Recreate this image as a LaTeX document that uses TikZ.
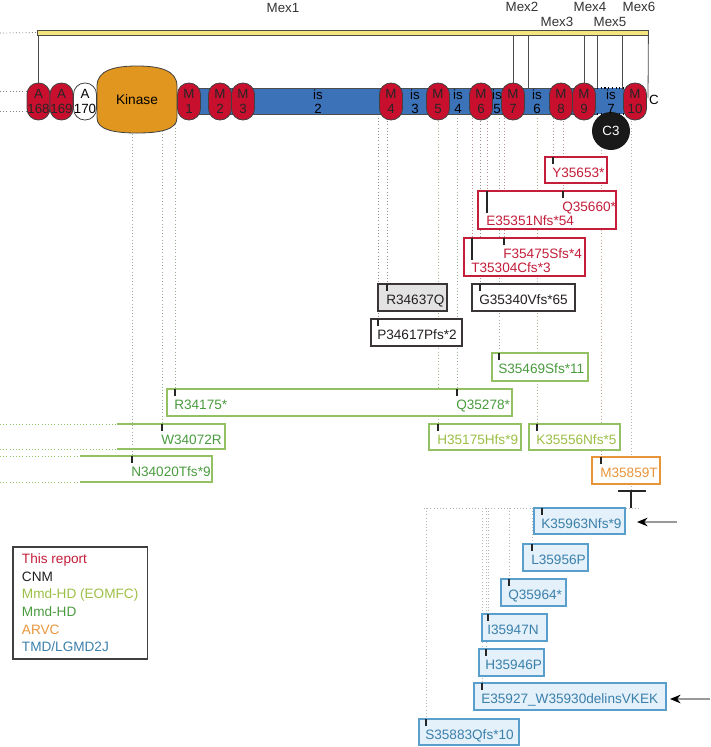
\documentclass[tikz,border=0pt]{standalone}
\usepackage{fontspec}
\setmainfont{Liberation Sans}
\usetikzlibrary{arrows.meta,positioning}
\definecolor{domred}{HTML}{C8102E}
\definecolor{domblue}{HTML}{3C72B8}
\definecolor{kinorange}{HTML}{E0961F}
\definecolor{mexyellow}{HTML}{F3E47C}
\definecolor{reptred}{HTML}{C41E3A}
\definecolor{cnmblack}{HTML}{231F20}
\definecolor{eomgreen}{HTML}{9CBF45}
\definecolor{mmdgreen}{HTML}{4A9B3F}
\definecolor{boxgreen}{HTML}{92C063}
\definecolor{arvcorange}{HTML}{E8953A}
\definecolor{tmdblue}{HTML}{3A80AA}
\definecolor{tmdbox}{HTML}{5A9ECB}
\definecolor{tmdfill}{HTML}{E4F0FA}
\tikzset{
  dom/.style = {rectangle, rounded corners=8.5pt, draw=black!75, line width=0.6pt, minimum width=17.25pt, minimum height=27.75pt, inner sep=0pt, align=center, font=\fontsize{10}{10.8}\selectfont},
  mdom/.style = {dom, fill=domred, text=black!85},
  adom/.style = {dom, fill=white},
  islab/.style = {inner sep=0pt, align=center, font=\fontsize{10}{10.8}\selectfont},
  mexlab/.style = {inner sep=0pt, text=black!80, font=\fontsize{10}{12}\selectfont},
  mexline/.style = {black!70, line width=0.6pt},
  vbox/.style = {line width=1pt, fill=white},
  vtext/.style = {anchor=base west, inner sep=0pt, font=\fontsize{10.2}{12}\selectfont},
  vtick/.style = {line width=0.9pt, black!85},
  vdot/.style = {line width=0.6pt, dash pattern=on 0.6pt off 1.8pt},
  arw/.style = {gray!80, line width=0.8pt, -{Stealth[black, length=8pt, width=6.5pt]}}
}
% variants: name/tick x/box top/line/colour/label
\def\uplist{y653/553/157/1/reptred/Y35653*, q660/563/191/1/reptred/Q35660*,
  e351/487/191/2/reptred/E35351Nfs*54, f475/504/238/1/reptred/F35475Sfs*4,
  t304/472/238/2/reptred/T35304Cfs*3, r637/387/284/1/cnmblack/R34637Q,
  g340/480/284/1/cnmblack/G35340Vfs*65, p617/378/319/1/cnmblack/P34617Pfs*2,
  s469/499/353/1/mmdgreen/S35469Sfs*11, r175/175/389/1/mmdgreen/R34175*,
  q278/457/389/1/mmdgreen/Q35278*, w072/162/424/1/mmdgreen/W34072R,
  n020/132/456/1/mmdgreen/N34020Tfs*9, h175/438/424/1/eomgreen/H35175Hfs*9,
  k556/537/424/1/eomgreen/K35556Nfs*5, m859/601/457/1/arvcorange/M35859T}
\def\lowlist{k963/542/508/K35963Nfs*9, l956/532/544/L35956P, q964/509/579/Q35964*,
  i947/488/614/I35947N, h946/486/649/H35946P, e927/482/683/E35927\_W35930delinsVKEK,
  s883/426/719/S35883Qfs*10}
\begin{document}
\begin{tikzpicture}[x=0.75pt, y=-0.75pt]
\useasboundingbox (0,0) rectangle (711,747);

% dotted leaders
\coordinate (dbot) at (0,118);
\coordinate (hl) at (424,508);
\coordinate (tmk) at (631,491);
\foreach \nm/\x/\tp/\lin/\col/\txt in \uplist {
  \coordinate (\nm) at (\x,\tp);
  \draw[vdot, color=\col!35!gray!70] (\nm |- dbot) -- (\nm);
}
\draw[vdot, gray!60] (tmk |- dbot) -- (tmk);
\draw[vdot, gray!60] (hl) -- (640,508);
\foreach \nm/\x/\tp/\txt in \lowlist {
  \coordinate (\nm) at (\x,\tp);
  \draw[vdot, gray!55] (\nm |- hl) -- (\nm);
}

% Mex bar
\node[draw=black!70, line width=0.6pt, fill=mexyellow, inner sep=0pt, minimum width=458.25pt, minimum height=3.75pt] (mexbar) at (342.5,32.5) {};
\draw[vdot, gray] (0,33) -- (mexbar.west);
\node[mexlab] (mex1) at (283,8) {Mex1};
\node[mexlab] (mex2) at (522,7) {Mex2};
\node[mexlab] (mex3) at (557,22) {Mex3};
\node[mexlab] (mex4) at (590,7) {Mex4};
\node[mexlab] (mex5) at (610,22) {Mex5};
\node[mexlab] (mex6) at (639,7) {Mex6};

% domain row
\draw[vdot, gray] (0,91) -- (27,91) (0,111) -- (27,111);
\draw[fill=domblue, draw=black!70, line width=0.6pt] (190,88) rectangle (597,114);
\fill[domblue] (597,88) rectangle (624,114);
\draw[dotted, line width=0.8pt] (597,88) -- (624,88) (597,114) -- (624,114);
\node[circle, fill=black!90, text=white, minimum size=28.5pt, inner sep=0pt, font=\fontsize{10}{12}\selectfont] (c3) at (611,131) {C3};
\foreach \nm/\x/\a/\b in {a168/38.5/A/168, a169/61.5/A/169, m1/189/M/1, m2/220/M/2, m3/243/M/3, m4/391/M/4, m5/438/M/5, m6/481/M/6, m7/513/M/7, m8/561/M/8, m9/584/M/9, m10/635/M/10}
  \node[mdom] (\nm) at (\x,101.5) {\a\\\b};
\node[adom] (a170) at (85,101.5) {A\\170};
\draw[draw=black!75, line width=0.6pt, fill=kinorange] (97,118) -- (97,86) .. controls (97,70) and (115,66) .. (137,66) .. controls (159,66) and (177,70) .. (177,86) -- (177,118) .. controls (177,130) and (159,133) .. (137,133) .. controls (115,133) and (97,130) .. (97,118) -- cycle;
\node[inner sep=0pt, font=\fontsize{10.3}{12}\selectfont] (kin) at (137,100) {Kinase};
\foreach \nm/\x/\k in {is2/318/2, is3/415/3, is4/458/4, is5/497/5, is6/537/6, is7/611/7}
  \node[islab] (\nm) at (\x,101.5) {is\\\k};
\node[mexlab, text=black] (cterm) at (654,100) {C};
\draw[mexline] (mexbar.south -| a168) -- (a168.north);
\draw[mexline] (mexbar.south -| m7) -- (m7.north);
\draw[mexline] (528,35) -- (528,88);
\draw[mexline] (mexbar.south -| m9) -- (m9.north);
\draw[mexline] (597,35) -- (597,88);
\draw[mexline] (622,35) -- (622,90);
\draw[mexline] (mexbar.south east) -- (648,98);

% boxes
\draw[vbox, draw=reptred] (545,157) rectangle (607,183);
\draw[vbox, draw=reptred] (478,191) rectangle (616,229);
\draw[vbox, draw=reptred] (464,238) rectangle (585,276);
\draw[vbox, draw=cnmblack!90, fill=gray!22] (378,284) rectangle (447,311);
\draw[vbox, draw=cnmblack!90] (472,284) rectangle (575,311);
\draw[vbox, draw=cnmblack!90] (371,319) rectangle (462,346);
\draw[vbox, draw=boxgreen] (492,353) rectangle (588,381);
\draw[vbox, draw=boxgreen] (167,389) rectangle (512,416);
\draw[vbox, draw=boxgreen] (429,424) rectangle (521,450);
\draw[vbox, draw=boxgreen] (529,424) rectangle (620,450);
\draw[vdot, boxgreen] (0,424) -- (117,424) (0,449) -- (117,449) (0,456) -- (80,456) (0,482) -- (80,482);
\draw[line width=1pt, boxgreen] (117,424) -- (225,424) -- (225,449) -- (117,449);
\draw[line width=1pt, boxgreen] (80,456) -- (212,456) -- (212,482) -- (80,482);
\draw[vbox, draw=arvcorange] (592,457) rectangle (660,484);
\foreach \xa/\ya/\xb/\yb in {534/508/625/534, 523/544/588/571, 501/579/566/606, 482/614/547/641, 479/649/544/676, 474/683/666/710, 419/719/519/745}
  \draw[vbox, draw=tmdbox, fill=tmdfill] (\xa,\ya) rectangle (\xb,\yb);

% ticks and labels
\foreach \nm/\x/\tp/\lin/\col/\txt [evaluate=\lin as \tlen using {7+15*(\lin-1)}, evaluate=\lin as \bsl using {\tp+20+14*(\lin-1)}] in \uplist {
  \draw[vtick] (\nm) -- ++(0,\tlen);
  \node[vtext, text=\col] (\nm-t) at (\x-1,\bsl) {\txt};
}
\foreach \nm/\x/\tp/\txt in \lowlist {
  \draw[vtick] (\nm) -- ++(0,7);
  \node[vtext, text=tmdblue] (\nm-t) at (\x-1,\tp+20) {\txt};
}
\draw[line width=1.3pt, black!85] (618,491) -- (646,491) (tmk) -- (tmk |- hl);
\coordinate (ar1a) at (677,522);
\coordinate (ar1b) at (637,522);
\coordinate (ar2a) at (710,699);
\coordinate (ar2b) at (670,699);
\draw[arw] (ar1a) -- (ar1b);
\draw[arw] (ar2a) -- (ar2b);

% legend
\node[draw=black!75, line width=1.2pt, anchor=north west, minimum height=84pt, minimum width=101pt, align=left, font=\fontsize{10.2}{13.2}\selectfont] (legend) at (12,546)
  {\textcolor{reptred}{This report}\\ \textcolor{cnmblack}{CNM}\\ \textcolor{eomgreen}{Mmd-HD (EOMFC)}\\ \textcolor{mmdgreen}{Mmd-HD}\\ \textcolor{arvcorange}{ARVC}\\ \textcolor{tmdblue}{TMD/LGMD2J}};
\end{tikzpicture}
\end{document}
